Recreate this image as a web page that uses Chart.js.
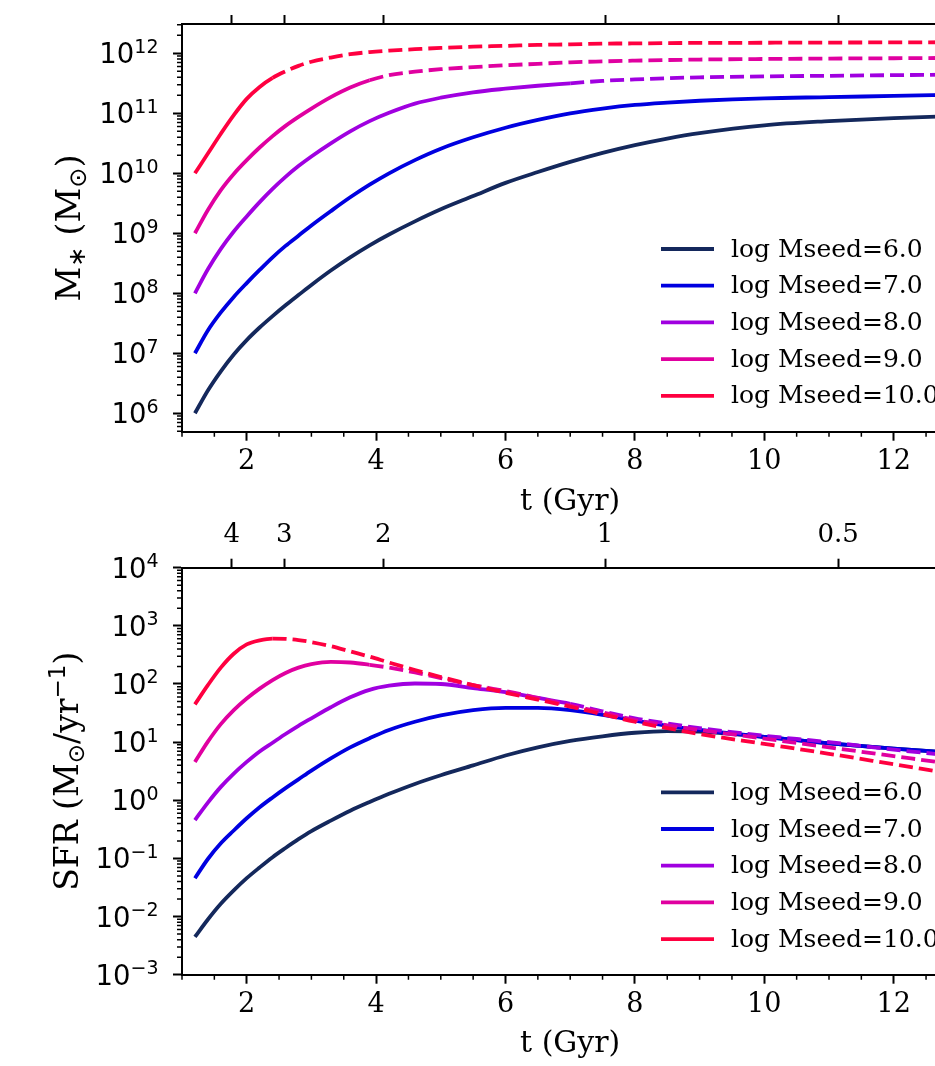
<!DOCTYPE html>
<html lang="en">
<head>
<meta charset="UTF-8" />
<title>Stellar mass and SFR vs time</title>
<script src="https://cdn.jsdelivr.net/npm/chart.js@4.4.1/dist/chart.umd.min.js"></script>
<style>
  html, body { margin: 0; padding: 0; background: #fff; overflow: hidden; }
  #page { position: relative; width: 935px; height: 1066px; overflow: hidden; }
  .panel { position: absolute; left: 0; width: 960px; }
  #top { top: -40px; height: 580px; }
  #bottom { top: 500px; height: 566px; }
</style>
</head>
<body>
<div id="page">
  <div class="panel" id="top"><canvas id="mstar" width="960" height="580"></canvas></div>
  <div class="panel" id="bottom"><canvas id="sfr" width="960" height="566"></canvas></div>
</div>
<script>
// time grid (Gyr), shared by every curve
const tGyr = [1.2, 1.4, 1.6, 1.8, 2.0, 2.2, 2.4, 2.6, 2.8, 3.0, 3.3, 3.6, 3.9, 4.2, 4.6,
  5.0, 5.5, 6.0, 6.5, 7.0, 7.5, 8.0, 8.5, 9.0, 10, 11, 12, 13];

const seedLabels = ['log Mseed=6.0', 'log Mseed=7.0', 'log Mseed=8.0', 'log Mseed=9.0', 'log Mseed=10.0'];

// stellar mass (Msun)
const mstar6 = [1.00e6, 2.40e6, 5.01e6, 9.55e6, 1.66e7, 2.69e7, 4.17e7, 6.31e7, 9.33e7, 1.38e8, 2.40e8, 3.98e8, 6.31e8, 9.55e8,
  1.58e9, 2.51e9, 4.17e9, 6.92e9, 1.05e10, 1.55e10, 2.19e10, 2.95e10, 3.80e10, 4.68e10, 6.31e10, 7.41e10, 8.32e10, 9.02e10];
const mstar7 = [1.00e7, 2.40e7, 4.79e7, 8.71e7, 1.48e8, 2.45e8, 3.98e8, 6.17e8, 9.12e8, 1.35e9, 2.34e9, 3.98e9, 6.46e9, 1.00e10,
  1.66e10, 2.57e10, 3.98e10, 5.75e10, 7.76e10, 1.00e11, 1.20e11, 1.38e11, 1.51e11, 1.62e11, 1.78e11, 1.86e11, 1.95e11, 2.04e11];
const mstar8 = [1.00e8, 2.51e8, 5.50e8, 1.07e9, 1.91e9, 3.31e9, 5.50e9, 8.71e9, 1.32e10, 1.91e10, 3.16e10, 5.01e10, 7.41e10, 1.02e11,
  1.45e11, 1.82e11, 2.24e11, 2.57e11, 2.88e11, 3.16e11, 3.47e11, 3.67e11, 3.85e11, 3.98e11, 4.12e11, 4.22e11, 4.32e11, 4.42e11];
const mstar9 = [1.00e9, 2.45e9, 5.25e9, 9.77e9, 1.66e10, 2.69e10, 4.17e10, 6.17e10, 8.71e10, 1.20e11, 1.86e11, 2.69e11, 3.55e11, 4.32e11,
  4.95e11, 5.43e11, 5.89e11, 6.31e11, 6.68e11, 7.08e11, 7.33e11, 7.55e11, 7.73e11, 7.87e11, 8.04e11, 8.17e11, 8.28e11, 8.38e11];
const mstar10 = [1.00e10, 2.14e10, 4.57e10, 9.33e10, 1.74e11, 2.75e11, 3.89e11, 5.01e11, 6.17e11, 7.24e11, 8.51e11, 9.66e11, 1.05e12, 1.11e12,
  1.17e12, 1.23e12, 1.29e12, 1.33e12, 1.38e12, 1.41e12, 1.45e12, 1.46e12, 1.48e12, 1.49e12, 1.50e12, 1.51e12, 1.52e12, 1.53e12];

// star formation rate (Msun/yr)
const sfr6 = [4.47e-3, 8.91e-3, 1.66e-2, 2.82e-2, 4.57e-2, 7.0e-2, 0.105, 0.151, 0.214, 0.295, 0.447, 0.661, 0.933, 1.29,
  1.91, 2.69, 3.98, 5.89, 8.13, 10.5, 12.6, 14.5, 15.5, 15.1, 12.3, 9.55, 7.76, 6.46];
const sfr7 = [4.57e-2, 9.77e-2, 0.182, 0.302, 0.490, 0.759, 1.12, 1.62, 2.29, 3.24, 5.25, 8.13, 11.7, 16.2,
  22.4, 28.8, 35.5, 38.9, 38.9, 35.5, 29.5, 23.4, 19.1, 16.2, 12.3, 9.55, 7.76, 6.46];
const sfr8 = [0.457, 0.912, 1.70, 2.88, 4.57, 6.92, 9.77, 13.8, 19.1, 25.7, 39.8, 58.9, 79.4, 93.3,
  102, 100, 85.1, 72.4, 57.5, 45.7, 33.9, 25.7, 20.9, 17.4, 12.9, 10.0, 7.41, 5.75];
const sfr9 = [4.57, 10.2, 20.4, 35.5, 56.2, 83.2, 117, 155, 191, 219, 240, 234, 214, 191,
  158, 126, 95.5, 75.9, 57.5, 42.7, 32.4, 24.0, 19.5, 16.2, 11.5, 8.13, 5.75, 4.07];
const sfr10 = [44.7, 95.5, 191, 331, 479, 562, 603, 596, 569, 525, 447, 363, 295, 234,
  174, 132, 95.5, 70.8, 53.7, 40.7, 30.2, 22.4, 17.4, 13.8, 9.33, 6.31, 4.17, 2.75];

// index of tGyr where each curve turns dashed (null = solid all the way)
const dashFrom = [null, null, 19, 12, 6];

// axes
const tTicks = [2, 4, 6, 8, 10, 12];
const zTickT = [1.769, 2.581, 4.109, 7.54, 11.14];
const zLabels = ['4', '3', '2', '1', '0.5'];
const mstarTicks = [1e6, 1e7, 1e8, 1e9, 1e10, 1e11, 1e12];
const sfrTicks = [1e-3, 1e-2, 1e-1, 1e0, 1e1, 1e2, 1e3, 1e4];

const seedColors = ['#14285c', '#0000e0', '#a000e0', '#e000a0', '#ff0040'];
const SERIF = "'DejaVu Serif', serif";
const SANS = "'DejaVu Sans', sans-serif";
const T_MIN = 1.0, T_MAX = 13.0;

function makeDatasets(series) {
  return series.map((vals, i) => ({
    label: seedLabels[i],
    data: tGyr.map((t, j) => ({ x: t, y: vals[j] })),
    borderColor: seedColors[i],
    backgroundColor: seedColors[i],
    borderWidth: 3.8,
    pointRadius: 0,
    fill: false,
    cubicInterpolationMode: 'monotone',
    order: series.length - 1 - i,
    segment: {
      borderDash: c => (dashFrom[i] !== null && c.p0DataIndex >= dashFrom[i]) ? [14, 6] : undefined
    }
  }));
}

// minor ticks, mathtext-like y labels, y title and legend
function decor(o) {
  return {
    id: 'decor',
    afterDraw(chart) {
      const ctx = chart.ctx, xs = chart.scales.x, ys = chart.scales.y, a = chart.chartArea;
      ctx.save();
      ctx.strokeStyle = '#000';
      ctx.lineWidth = 1.5;
      ctx.beginPath();
      for (let v = 1; v <= 13; v += 0.5) {
        if (v % 2 === 0) continue;
        const px = xs.getPixelForValue(v);
        if (px < a.left - 1 || px > a.right) continue;
        ctx.moveTo(px, a.bottom);
        ctx.lineTo(px, a.bottom + 5);
      }
      const lo = Math.floor(Math.log10(ys.min)), hi = Math.ceil(Math.log10(ys.max));
      for (let d = lo; d <= hi; d++) {
        for (let k = 2; k <= 9; k++) {
          const v = k * Math.pow(10, d);
          if (v < ys.min || v > ys.max) continue;
          const py = ys.getPixelForValue(v);
          ctx.moveTo(a.left, py);
          ctx.lineTo(a.left - 5, py);
        }
      }
      ctx.stroke();

      // y tick labels: 10 with raised exponent
      ctx.fillStyle = '#000';
      ctx.textBaseline = 'alphabetic';
      ctx.textAlign = 'left';
      o.yTicks.forEach(v => {
        const e = Math.round(Math.log10(v));
        const expTxt = e < 0 ? '\u2212' + (-e) : String(e);
        const py = ys.getPixelForValue(v);
        ctx.font = '19px ' + SANS;
        const we = ctx.measureText(expTxt).width;
        ctx.font = '27.5px ' + SANS;
        const wm = ctx.measureText('10').width;
        const right = 158.5;
        ctx.fillText('10', right - we - wm, py + 10);
        ctx.font = '19px ' + SANS;
        ctx.fillText(expTxt, right - we, py - 0.5);
      });

      // rotated y title
      let total = 0;
      o.title.forEach(r => { ctx.font = r.size + 'px ' + r.fam; r.w = ctx.measureText(r.text).width; total += r.w; });
      ctx.save();
      ctx.translate(o.titleX, (a.top + a.bottom) / 2);
      ctx.rotate(-Math.PI / 2);
      let x = -total / 2;
      o.title.forEach(r => {
        ctx.font = r.size + 'px ' + r.fam;
        ctx.fillText(r.text, x, 12 + (r.dy || 0));
        x += r.w;
      });
      ctx.restore();

      // legend (no frame)
      ctx.font = '25px ' + SERIF;
      ctx.textBaseline = 'middle';
      seedLabels.forEach((lab, i) => {
        const y = o.legendY + i * 36.7;
        ctx.strokeStyle = seedColors[i];
        ctx.lineWidth = 3.8;
        ctx.beginPath();
        ctx.moveTo(661, y);
        ctx.lineTo(714, y);
        ctx.stroke();
        ctx.fillStyle = '#000';
        ctx.fillText(lab, 731, y + 1);
      });
      ctx.restore();
    }
  };
}

function axisGrid() {
  return { drawOnChartArea: false, tickLength: 9, tickWidth: 2, tickColor: '#000' };
}

function makeChart(id, series, yMin, yMax, yTicks, box, o) {
  return new Chart(document.getElementById(id), {
    type: 'line',
    data: { datasets: makeDatasets(series) },
    options: {
      responsive: false,
      animation: false,
      layout: { padding: { left: 0, top: 0, bottom: 0, right: box.padRight } },
      plugins: { legend: { display: false }, tooltip: { enabled: false } },
      scales: {
        x: {
          type: 'linear', position: 'bottom', min: T_MIN, max: T_MAX,
          afterBuildTicks: s => { s.ticks = tTicks.map(v => ({ value: v })); },
          afterFit: s => { s.height = box.xHeight; },
          ticks: { font: { family: SERIF, size: 27 }, color: '#000', padding: 5, maxRotation: 0, autoSkip: false },
          grid: axisGrid(),
          border: { color: '#000', width: 2 },
          title: { display: true, text: 't (Gyr)', color: '#000', font: { family: SERIF, size: 30 },
            padding: { top: 0, bottom: box.titlePad } }
        },
        x2: {
          axis: 'x', type: 'linear', position: 'top', min: T_MIN, max: T_MAX,
          afterBuildTicks: s => { s.ticks = zTickT.map(v => ({ value: v })); },
          afterFit: s => { s.height = box.x2Height; },
          ticks: { font: { family: SERIF, size: 26 }, color: '#000', padding: 7.5, maxRotation: 0, autoSkip: false,
            callback: (v, i) => zLabels[i] },
          grid: axisGrid(),
          border: { color: '#000', width: 2 }
        },
        y: {
          type: 'logarithmic', position: 'left', min: yMin, max: yMax,
          afterBuildTicks: s => { s.ticks = yTicks.map(v => ({ value: v })); },
          afterFit: s => { s.width = 182; },
          ticks: { display: false },
          grid: axisGrid(),
          border: { color: '#000', width: 2 }
        }
      }
    },
    plugins: [decor(Object.assign({ yTicks: yTicks }, o))]
  });
}

makeChart('mstar', [mstar6, mstar7, mstar8, mstar9, mstar10], 4.93e5, 3.08e12, mstarTicks,
  { xHeight: 108.3, x2Height: 64, padRight: 1.6, titlePad: 19.5 },
  {
    titleX: 68, legendY: 289,
    title: [
      { text: 'M', size: 34, fam: SERIF },
      { text: '\u2217', size: 24, fam: SANS, dy: 5 },
      { text: ' (M', size: 34, fam: SERIF },
      { text: '\u2299', size: 24, fam: SANS, dy: 6 },
      { text: ')', size: 34, fam: SERIF }
    ]
  });

makeChart('sfr', [sfr6, sfr7, sfr8, sfr9, sfr10], 1e-3, 1e4, sfrTicks,
  { xHeight: 91.3, x2Height: 67.7, padRight: 1.6, titlePad: 4 },
  {
    titleX: 66, legendY: 292.3,
    title: [
      { text: 'SFR (M', size: 33, fam: SERIF },
      { text: '\u2299', size: 23, fam: SANS, dy: 6 },
      { text: '/yr', size: 33, fam: SERIF },
      { text: '\u22121', size: 23, fam: SANS, dy: -13 },
      { text: ')', size: 33, fam: SERIF }
    ]
  });
</script>
</body>
</html>
